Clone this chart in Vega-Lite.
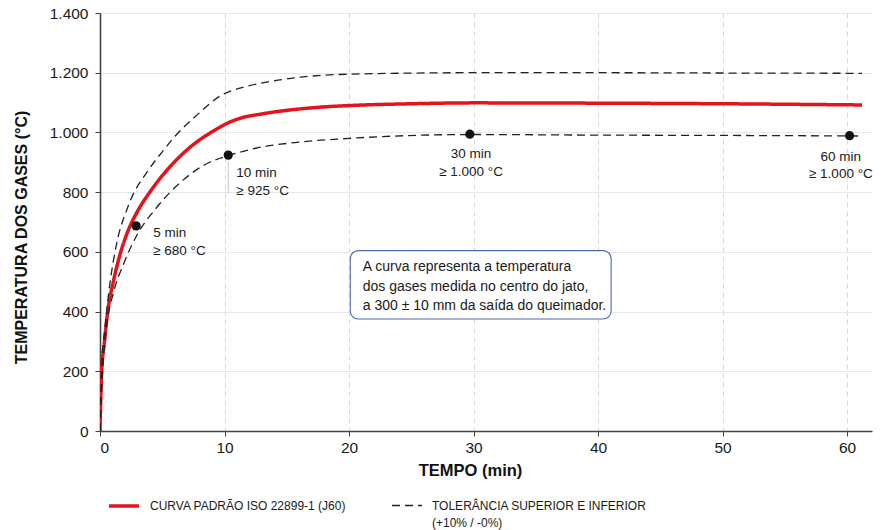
{
  "$schema": "https://vega.github.io/schema/vega-lite/v6.json",
  "width": 772,
  "height": 418,
  "autosize": {"type": "none"},
  "padding": {"left": 100, "top": 13, "right": 15, "bottom": 99},
  "background": "white",
  "config": {
    "locale": {"number": {"decimal": ",", "thousands": ".", "grouping": [3], "currency": ["R$", ""]}},
    "view": {"stroke": null},
    "font": "Liberation Sans",
    "axis": {
      "domainColor": "#444444",
      "domainWidth": 1.6,
      "tickColor": "#444444",
      "tickSize": 5,
      "labelFont": "Liberation Sans",
      "labelFontSize": 15.5,
      "labelColor": "#1a1a1a",
      "titleFont": "Liberation Sans",
      "titleFontSize": 16,
      "titleFontWeight": "bold",
      "titleColor": "#111111"
    }
  },
  "datasets": {
    "curves": [
      {"t": 0, "T": 0, "serie": "CURVA PADRÃO ISO 22899-1 (J60)", "curva": "padrao"},
      {"t": 0.13, "T": 195, "serie": "CURVA PADRÃO ISO 22899-1 (J60)", "curva": "padrao"},
      {"t": 0.35, "T": 295, "serie": "CURVA PADRÃO ISO 22899-1 (J60)", "curva": "padrao"},
      {"t": 0.62, "T": 400, "serie": "CURVA PADRÃO ISO 22899-1 (J60)", "curva": "padrao"},
      {"t": 1.07, "T": 500, "serie": "CURVA PADRÃO ISO 22899-1 (J60)", "curva": "padrao"},
      {"t": 1.6, "T": 590, "serie": "CURVA PADRÃO ISO 22899-1 (J60)", "curva": "padrao"},
      {"t": 2.2, "T": 665, "serie": "CURVA PADRÃO ISO 22899-1 (J60)", "curva": "padrao"},
      {"t": 3, "T": 735, "serie": "CURVA PADRÃO ISO 22899-1 (J60)", "curva": "padrao"},
      {"t": 4, "T": 800, "serie": "CURVA PADRÃO ISO 22899-1 (J60)", "curva": "padrao"},
      {"t": 5, "T": 855, "serie": "CURVA PADRÃO ISO 22899-1 (J60)", "curva": "padrao"},
      {"t": 6, "T": 902, "serie": "CURVA PADRÃO ISO 22899-1 (J60)", "curva": "padrao"},
      {"t": 7, "T": 942, "serie": "CURVA PADRÃO ISO 22899-1 (J60)", "curva": "padrao"},
      {"t": 8, "T": 975, "serie": "CURVA PADRÃO ISO 22899-1 (J60)", "curva": "padrao"},
      {"t": 9, "T": 1002, "serie": "CURVA PADRÃO ISO 22899-1 (J60)", "curva": "padrao"},
      {"t": 10.5, "T": 1036, "serie": "CURVA PADRÃO ISO 22899-1 (J60)", "curva": "padrao"},
      {"t": 11.3, "T": 1048, "serie": "CURVA PADRÃO ISO 22899-1 (J60)", "curva": "padrao"},
      {"t": 13, "T": 1062, "serie": "CURVA PADRÃO ISO 22899-1 (J60)", "curva": "padrao"},
      {"t": 15, "T": 1074, "serie": "CURVA PADRÃO ISO 22899-1 (J60)", "curva": "padrao"},
      {"t": 17.5, "T": 1084, "serie": "CURVA PADRÃO ISO 22899-1 (J60)", "curva": "padrao"},
      {"t": 20, "T": 1090, "serie": "CURVA PADRÃO ISO 22899-1 (J60)", "curva": "padrao"},
      {"t": 25, "T": 1096, "serie": "CURVA PADRÃO ISO 22899-1 (J60)", "curva": "padrao"},
      {"t": 30, "T": 1099, "serie": "CURVA PADRÃO ISO 22899-1 (J60)", "curva": "padrao"},
      {"t": 40, "T": 1098, "serie": "CURVA PADRÃO ISO 22899-1 (J60)", "curva": "padrao"},
      {"t": 50, "T": 1096, "serie": "CURVA PADRÃO ISO 22899-1 (J60)", "curva": "padrao"},
      {"t": 61.2, "T": 1092, "serie": "CURVA PADRÃO ISO 22899-1 (J60)", "curva": "padrao"},

      {"t": 0, "T": 0, "serie": "TOLERÂNCIA SUPERIOR E INFERIOR", "curva": "superior"},
      {"t": 0.13, "T": 215, "serie": "TOLERÂNCIA SUPERIOR E INFERIOR", "curva": "superior"},
      {"t": 0.4, "T": 345, "serie": "TOLERÂNCIA SUPERIOR E INFERIOR", "curva": "superior"},
      {"t": 0.8, "T": 495, "serie": "TOLERÂNCIA SUPERIOR E INFERIOR", "curva": "superior"},
      {"t": 1.3, "T": 620, "serie": "TOLERÂNCIA SUPERIOR E INFERIOR", "curva": "superior"},
      {"t": 2.28, "T": 755, "serie": "TOLERÂNCIA SUPERIOR E INFERIOR", "curva": "superior"},
      {"t": 3.89, "T": 874, "serie": "TOLERÂNCIA SUPERIOR E INFERIOR", "curva": "superior"},
      {"t": 5, "T": 935, "serie": "TOLERÂNCIA SUPERIOR E INFERIOR", "curva": "superior"},
      {"t": 6.04, "T": 988, "serie": "TOLERÂNCIA SUPERIOR E INFERIOR", "curva": "superior"},
      {"t": 7.65, "T": 1053, "serie": "TOLERÂNCIA SUPERIOR E INFERIOR", "curva": "superior"},
      {"t": 9.8, "T": 1126, "serie": "TOLERÂNCIA SUPERIOR E INFERIOR", "curva": "superior"},
      {"t": 11.67, "T": 1153, "serie": "TOLERÂNCIA SUPERIOR E INFERIOR", "curva": "superior"},
      {"t": 13.3, "T": 1168, "serie": "TOLERÂNCIA SUPERIOR E INFERIOR", "curva": "superior"},
      {"t": 16.1, "T": 1185, "serie": "TOLERÂNCIA SUPERIOR E INFERIOR", "curva": "superior"},
      {"t": 20, "T": 1195, "serie": "TOLERÂNCIA SUPERIOR E INFERIOR", "curva": "superior"},
      {"t": 30, "T": 1200, "serie": "TOLERÂNCIA SUPERIOR E INFERIOR", "curva": "superior"},
      {"t": 40, "T": 1200, "serie": "TOLERÂNCIA SUPERIOR E INFERIOR", "curva": "superior"},
      {"t": 50, "T": 1199, "serie": "TOLERÂNCIA SUPERIOR E INFERIOR", "curva": "superior"},
      {"t": 61.2, "T": 1198, "serie": "TOLERÂNCIA SUPERIOR E INFERIOR", "curva": "superior"},

      {"t": 0, "T": 0, "serie": "TOLERÂNCIA SUPERIOR E INFERIOR", "curva": "inferior"},
      {"t": 0.1, "T": 110, "serie": "TOLERÂNCIA SUPERIOR E INFERIOR", "curva": "inferior"},
      {"t": 0.28, "T": 245, "serie": "TOLERÂNCIA SUPERIOR E INFERIOR", "curva": "inferior"},
      {"t": 0.56, "T": 360, "serie": "TOLERÂNCIA SUPERIOR E INFERIOR", "curva": "inferior"},
      {"t": 1.07, "T": 462, "serie": "TOLERÂNCIA SUPERIOR E INFERIOR", "curva": "inferior"},
      {"t": 1.88, "T": 558, "serie": "TOLERÂNCIA SUPERIOR E INFERIOR", "curva": "inferior"},
      {"t": 2.95, "T": 655, "serie": "TOLERÂNCIA SUPERIOR E INFERIOR", "curva": "inferior"},
      {"t": 4.6, "T": 751, "serie": "TOLERÂNCIA SUPERIOR E INFERIOR", "curva": "inferior"},
      {"t": 6.8, "T": 845, "serie": "TOLERÂNCIA SUPERIOR E INFERIOR", "curva": "inferior"},
      {"t": 8.6, "T": 896, "serie": "TOLERÂNCIA SUPERIOR E INFERIOR", "curva": "inferior"},
      {"t": 10.3, "T": 922, "serie": "TOLERÂNCIA SUPERIOR E INFERIOR", "curva": "inferior"},
      {"t": 12.5, "T": 947, "serie": "TOLERÂNCIA SUPERIOR E INFERIOR", "curva": "inferior"},
      {"t": 16.1, "T": 968, "serie": "TOLERÂNCIA SUPERIOR E INFERIOR", "curva": "inferior"},
      {"t": 20, "T": 980, "serie": "TOLERÂNCIA SUPERIOR E INFERIOR", "curva": "inferior"},
      {"t": 30, "T": 993, "serie": "TOLERÂNCIA SUPERIOR E INFERIOR", "curva": "inferior"},
      {"t": 40, "T": 991, "serie": "TOLERÂNCIA SUPERIOR E INFERIOR", "curva": "inferior"},
      {"t": 50, "T": 990, "serie": "TOLERÂNCIA SUPERIOR E INFERIOR", "curva": "inferior"},
      {"t": 61.2, "T": 988, "serie": "TOLERÂNCIA SUPERIOR E INFERIOR", "curva": "inferior"}
    ],
    "pontos": [
      {"t": 2.9, "T": 687},
      {"t": 10.3, "T": 924},
      {"t": 29.7, "T": 994},
      {"t": 60.2, "T": 989}
    ],
    "rotulos_esq": [
      {"t": 4.27, "T": 663, "texto": "5 min"},
      {"t": 4.27, "T": 603, "texto": "≥ 680 °C"},
      {"t": 10.95, "T": 864, "texto": "10 min"},
      {"t": 10.95, "T": 804, "texto": "≥ 925 °C"}
    ],
    "rotulos_centro": [
      {"t": 29.8, "T": 927, "texto": "30 min"},
      {"t": 29.8, "T": 866, "texto": "≥ 1.000 °C"},
      {"t": 59.5, "T": 919, "texto": "60 min"},
      {"t": 59.5, "T": 860, "texto": "≥ 1.000 °C"}
    ],
    "caixa": [
      {"t1": 20.1, "t2": 41.05, "T1": 604, "T2": 375}
    ],
    "nota": [
      {"t": 21.1, "T": 549, "texto": "A curva representa a temperatura"},
      {"t": 21.1, "T": 482, "texto": "dos gases medida no centro do jato,"},
      {"t": 21.1, "T": 418, "texto": "a 300 ± 10 mm da saída do queimador."}
    ],
    "guia": [
      {"t": 10.3, "T1": 905, "T2": 797}
    ]
  },
  "layer": [
    {
      "data": {"name": "curves"},
      "mark": {"type": "line", "interpolate": "monotone", "clip": true},
      "encoding": {
        "x": {
          "field": "t", "type": "quantitative",
          "scale": {"domain": [0, 62], "nice": false},
          "axis": {
            "values": [0, 10, 20, 30, 40, 50, 60],
            "title": "TEMPO (min)",
            "titleFontSize": 16.5,
            "titleX": 370, "titleY": 39, "titleBaseline": "middle", "titleAnchor": null,
            "labelPadding": 4,
            "grid": true, "gridColor": "#d9d9d9", "gridDash": [5, 4], "gridWidth": 1
          }
        },
        "y": {
          "field": "T", "type": "quantitative",
          "scale": {"domain": [0, 1400], "nice": false},
          "axis": {
            "values": [0, 200, 400, 600, 800, 1000, 1200, 1400],
            "format": ",d",
            "title": "TEMPERATURA DOS GASES (°C)",
            "titleX": -79, "titleY": 224, "titleAngle": -90, "titleAlign": "center", "titleBaseline": "middle", "titleAnchor": null,
            "labelPadding": 7,
            "grid": true, "gridColor": "#e5e7ef", "gridWidth": 1
          }
        },
        "detail": {"field": "curva"},
        "color": {
          "field": "serie", "type": "nominal",
          "scale": {"domain": ["CURVA PADRÃO ISO 22899-1 (J60)", "TOLERÂNCIA SUPERIOR E INFERIOR"], "range": ["#e3141b", "#222222"]},
          "legend": {
            "title": null,
            "orient": "none",
            "legendX": 7,
            "legendY": 476,
            "direction": "horizontal",
            "symbolType": "stroke",
            "symbolSize": 900,
            "labelFont": "Liberation Sans",
            "labelFontSize": 12,
            "labelColor": "#1a1a1a",
            "labelOffset": 9,
            "labelLimit": 400,
            "columnPadding": 42,
            "labelBaseline": "top",
            "labelExpr": "datum.label == 'TOLERÂNCIA SUPERIOR E INFERIOR' ? ['TOLERÂNCIA SUPERIOR E INFERIOR', '(+10% / -0%)'] : [datum.label, ' ']",
            "encode": {"labels": {"update": {"dy": {"value": -5}, "lineHeight": {"value": 17}}}}
          }
        },
        "strokeDash": {
          "field": "serie", "type": "nominal",
          "scale": {"domain": ["CURVA PADRÃO ISO 22899-1 (J60)", "TOLERÂNCIA SUPERIOR E INFERIOR"], "range": [[1, 0], [8, 5]]}
        },
        "strokeWidth": {
          "field": "serie", "type": "nominal",
          "scale": {"domain": ["CURVA PADRÃO ISO 22899-1 (J60)", "TOLERÂNCIA SUPERIOR E INFERIOR"], "range": [3.5, 1.3]}
        }
      }
    },
    {
      "data": {"name": "guia"},
      "mark": {"type": "rule", "color": "#c8c8c8", "strokeWidth": 1},
      "encoding": {
        "x": {"field": "t", "type": "quantitative"},
        "y": {"field": "T1", "type": "quantitative"},
        "y2": {"field": "T2"}
      }
    },
    {
      "data": {"name": "pontos"},
      "mark": {"type": "circle", "size": 85, "color": "#111111", "opacity": 1},
      "encoding": {
        "x": {"field": "t", "type": "quantitative"},
        "y": {"field": "T", "type": "quantitative"}
      }
    },
    {
      "data": {"name": "rotulos_esq"},
      "mark": {"type": "text", "align": "left", "baseline": "middle", "fontSize": 13.5, "color": "#1a1a1a", "font": "Liberation Sans"},
      "encoding": {
        "x": {"field": "t", "type": "quantitative"},
        "y": {"field": "T", "type": "quantitative"},
        "text": {"field": "texto"}
      }
    },
    {
      "data": {"name": "rotulos_centro"},
      "mark": {"type": "text", "align": "center", "baseline": "middle", "fontSize": 13.5, "color": "#1a1a1a", "font": "Liberation Sans"},
      "encoding": {
        "x": {"field": "t", "type": "quantitative"},
        "y": {"field": "T", "type": "quantitative"},
        "text": {"field": "texto"}
      }
    },
    {
      "data": {"name": "caixa"},
      "mark": {"type": "rect", "fill": "white", "stroke": "#4f68a8", "strokeWidth": 1.1, "cornerRadius": 8},
      "encoding": {
        "x": {"field": "t1", "type": "quantitative"},
        "x2": {"field": "t2"},
        "y": {"field": "T1", "type": "quantitative"},
        "y2": {"field": "T2"}
      }
    },
    {
      "data": {"name": "nota"},
      "mark": {"type": "text", "align": "left", "baseline": "middle", "fontSize": 14, "color": "#1a1a1a", "font": "Liberation Sans"},
      "encoding": {
        "x": {"field": "t", "type": "quantitative"},
        "y": {"field": "T", "type": "quantitative"},
        "text": {"field": "texto"}
      }
    }
  ]
}
